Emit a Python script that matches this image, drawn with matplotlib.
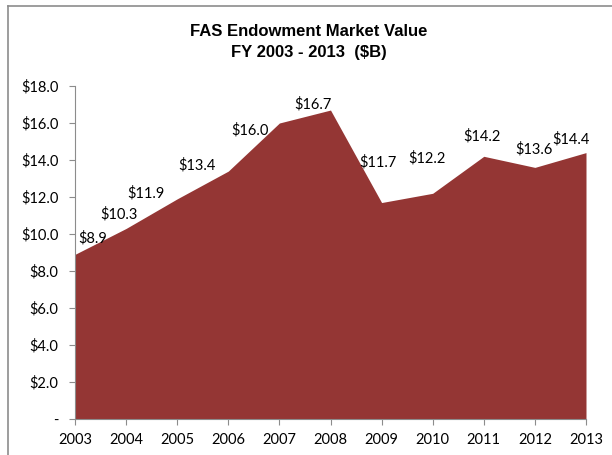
import matplotlib
matplotlib.use('Agg')
import matplotlib.pyplot as plt
from matplotlib.lines import Line2D

years = [2003, 2004, 2005, 2006, 2007, 2008, 2009, 2010, 2011, 2012, 2013]
values = [8.9, 10.3, 11.9, 13.4, 16.0, 16.7, 11.7, 12.2, 14.2, 13.6, 14.4]
yticks = [0, 2, 4, 6, 8, 10, 12, 14, 16, 18]

# label offsets in pixels (dx, dy) relative to each point
offsets = [(18, 16), (-7, 14), (-31, 6), (-31, 6), (-29, -7), (-17, 6),
           (-4, 40), (-6, 35), (-2, 20), (-1, 18), (-15, 13)]

fill_color = '#943634'
axis_color = '#8c8c8c'
label_font = 'Lato'

fig = plt.figure(figsize=(6.12, 4.55), dpi=100)
ax = fig.add_axes([75 / 612, 1 - 419 / 455, (586 - 75) / 612, (419 - 86) / 455])

ax.fill_between(years, values, 0, color=fill_color, linewidth=0)
ax.set_xlim(years[0], years[-1])
ax.set_ylim(0, 18)
ax.set_xticks(years)
ax.set_xticklabels([str(y) for y in years], fontfamily=label_font, fontsize=10.5)
ax.set_yticks(yticks)
ax.set_yticklabels(['-' if v == 0 else f'${v:.1f}' for v in yticks],
                   fontfamily=label_font, fontsize=10.5)

for side in ['top', 'right']:
    ax.spines[side].set_visible(False)
for side in ['left', 'bottom']:
    ax.spines[side].set_color(axis_color)
ax.tick_params(direction='out', length=4, color=axis_color, pad=8)
ax.tick_params(axis='x', pad=6)

for x, v, (dx, dy) in zip(years, values, offsets):
    ax.annotate(f'${v:.1f}', (x, v), xytext=(dx * 0.72, dy * 0.72),
                textcoords='offset points', ha='center', va='center',
                fontfamily=label_font, fontsize=10.5, color='black',
                annotation_clip=False)

fig.text(0.5 + 3 / 612, 1 - 32 / 455, 'FAS Endowment Market Value', ha='center', va='center',
         fontfamily='Liberation Sans', fontweight='bold', fontsize=12)
fig.text(0.5 + 3 / 612, 1 - 53 / 455, 'FY 2003 - 2013  ($B)', ha='center', va='center',
         fontfamily='Liberation Sans', fontweight='bold', fontsize=12)

# outer chart frame (only top and left edges visible)
fig.add_artist(Line2D([8 / 612, 8 / 612], [0, 1 - 6 / 455], transform=fig.transFigure,
                      color=axis_color, linewidth=1.2))
fig.add_artist(Line2D([8 / 612, 1], [1 - 6 / 455, 1 - 6 / 455], transform=fig.transFigure,
                      color=axis_color, linewidth=1.2))

fig.savefig('out.png', dpi=100)
